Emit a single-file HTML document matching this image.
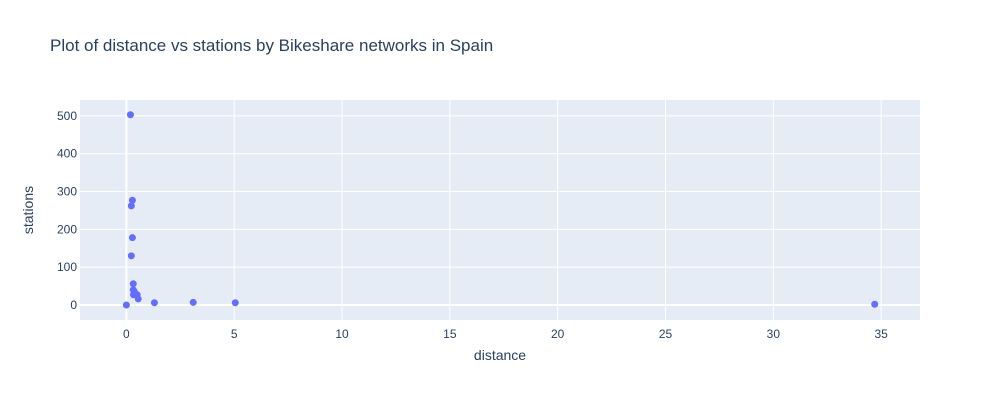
<!DOCTYPE html>
<html><head><meta charset="utf-8"><style>
body{margin:0;background:#fff;font-family:"Liberation Sans",Arial,sans-serif}
</style></head><body>
<svg width="1000" height="400" id="svg" xmlns="http://www.w3.org/2000/svg">
<rect width="1000" height="400" fill="#fff"/>
<text x="50" y="51" font-size="17" fill="#2a3f5f">Plot of distance vs stations by Bikeshare networks in Spain</text>
<rect x="80" y="100" width="840" height="220" fill="#e5ecf6"/>
<g id="grid"></g><g id="pts"></g>
<text x="500" y="360" font-size="14" fill="#2a3f5f" text-anchor="middle">distance</text>
<text x="33" y="210" font-size="14" fill="#2a3f5f" text-anchor="middle" transform="rotate(-90 33 210)">stations</text>
</svg>
<script>
const distances=[0.19,0.28,0.23,0.28,0.23,0.32,0.32,0.37,0.33,0.5,0.55,0,1.3,3.1,5.05,34.7];
const stations=[503,277,262,178,130,56,40,35,27,27,16,0,6,7,6,2];
const xTicks=[0,5,10,15,20,25,30,35];
const yTicks=[0,100,200,300,400,500];
const X0=80,X1=920,Y0=100,Y1=320,xmin=-2.15,xmax=36.8,ymin=-39.7,ymax=542;
const sx=v=>X0+(v-xmin)/(xmax-xmin)*(X1-X0);
const sy=v=>Y1-(v-ymin)/(ymax-ymin)*(Y1-Y0);
const NS="http://www.w3.org/2000/svg";
const g=document.getElementById('grid'),p=document.getElementById('pts');
function mk(t,a,par){const e=document.createElementNS(NS,t);for(const k in a)e.setAttribute(k,a[k]);par.appendChild(e);return e;}
xTicks.forEach(t=>{const x=sx(t);
const l=mk('line',{x1:x,x2:x,y1:Y0,y2:Y1,stroke:'#fff','stroke-width':t===0?2:1},g);


const tx=mk('text',{x:x,y:Y1+18,'font-size':12,fill:'#2a3f5f','text-anchor':'middle'},g);tx.textContent=t;

});
yTicks.forEach(t=>{const y=sy(t);
const l=mk('line',{x1:X0,x2:X1,y1:y,y2:y,stroke:'#fff','stroke-width':t===0?2:1},g);


const tx=mk('text',{x:X0-3,y:y+4,'font-size':12,fill:'#2a3f5f','text-anchor':'end'},g);tx.textContent=t;

});
distances.forEach((d,i)=>{const c=mk('circle',{cx:sx(d),cy:sy(stations[i]),r:3.5,fill:'#636efa'},p);

});
</script>
</body></html>
